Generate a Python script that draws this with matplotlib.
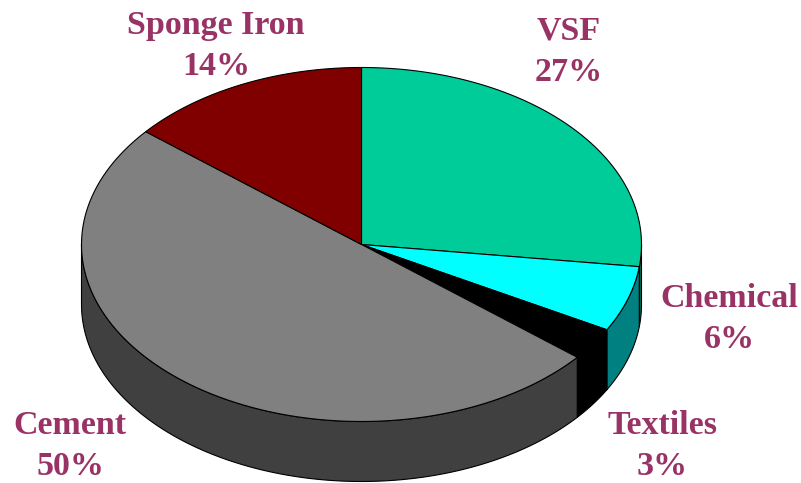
import numpy as np
import matplotlib
matplotlib.use("Agg")
import matplotlib.pyplot as plt
from matplotlib.patches import Polygon

labels = ["VSF", "Chemical", "Textiles", "Cement", "Sponge Iron"]
shares = [27, 6, 3, 50, 14]
top_colors = ["#00CC99", "#00FFFF", "#000000", "#808080", "#800000"]
side_colors = ["#006650", "#008080", "#000000", "#404040", "#400000"]
label_pos = [(569, 52), (729, 319), (662, 446), (70, 446), (216, 46)]

cx, cy, rx, ry, depth = 361.5, 244.5, 280, 177, 60


def rim(a0, a1, n=120):
    t = np.radians(np.linspace(a0, a1, n))
    return cx + rx * np.sin(t), cy - ry * np.cos(t)


fig = plt.figure(figsize=(8.01, 4.83), dpi=100)
ax = fig.add_axes([0, 0, 1, 1])
ax.set_xlim(0, 801)
ax.set_ylim(483, 0)
ax.axis("off")

edges = np.concatenate([[0], np.cumsum(shares)]) * 3.6

# walls first, only the part of the rim facing the viewer
for i in range(len(shares)):
    a0, a1 = max(edges[i], 90), min(edges[i + 1], 270)
    if a0 >= a1:
        continue
    x, y = rim(a0, a1)
    pts = np.vstack([np.c_[x, y], np.c_[x[::-1], y[::-1] + depth]])
    ax.add_patch(Polygon(pts, fc=side_colors[i], ec="black", lw=0.8))

# top face
for i in range(len(shares)):
    x, y = rim(edges[i], edges[i + 1])
    pts = np.vstack([[cx, cy], np.c_[x, y]])
    ax.add_patch(Polygon(pts, fc=top_colors[i], ec="black", lw=0.8))

for i in range(len(shares)):
    ax.text(label_pos[i][0], label_pos[i][1], f"{labels[i]}\n{shares[i]}%",
            family="Liberation Serif", weight="bold", fontsize=24.5,
            color="#993366", ha="center", va="center", linespacing=1.45)

fig.savefig("out.png", dpi=100)
